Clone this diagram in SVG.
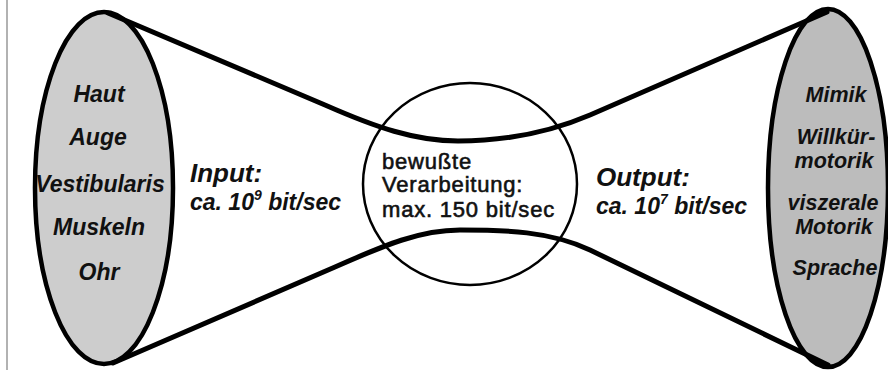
<svg xmlns="http://www.w3.org/2000/svg" width="888" height="370" viewBox="0 0 888 370">
  <style>
    .sense { fill: #cdcdcd; stroke: #000; stroke-width: 4.5; }
    .motor { fill: #bcbcbc; stroke: #000; stroke-width: 4.5; }
    .proc { fill: none; stroke: #000; stroke-width: 2.5; }
    .funnel { fill: none; stroke: #000; stroke-width: 5; stroke-linejoin: round; stroke-linecap: round; }
    .lbl { font-family: "Liberation Sans", Arial, sans-serif; font-weight: bold; font-style: italic; fill: #111; text-anchor: middle; }
    .l23 { font-size: 23px; }
    .r21 { font-size: 21.5px; }
    .head { font-family: "Liberation Sans", Arial, sans-serif; font-weight: bold; font-style: italic; font-size: 26px; fill: #111; }
    .rate { font-family: "Liberation Sans", Arial, sans-serif; font-weight: bold; font-style: italic; font-size: 23px; fill: #111; }
    .ctr { font-family: "Liberation Sans", Arial, sans-serif; font-size: 22px; letter-spacing: 0.8px; fill: #111; stroke: #111; stroke-width: 0.6px; }
  </style>

  <line x1="7" y1="0" x2="7" y2="370" stroke="#999" stroke-width="1.5"/>

  <g id="node-input-organs">
    <ellipse class="sense" cx="104" cy="188" rx="69" ry="176"/>
    <text class="lbl l23" x="99" y="102">Haut</text>
    <text class="lbl l23" x="98" y="145">Auge</text>
    <text class="lbl l23" x="100" y="192">Vestibularis</text>
    <text class="lbl l23" x="99" y="235">Muskeln</text>
    <text class="lbl l23" x="99" y="280">Ohr</text>
  </g>

  <g id="node-output-organs">
    <ellipse class="motor" cx="828" cy="188" rx="60" ry="179"/>
    <text class="lbl r21" x="836" y="102">Mimik</text>
    <text class="lbl r21" x="836" y="144">Willkür-</text>
    <text class="lbl r21" x="834" y="168">motorik</text>
    <text class="lbl r21" x="833" y="210">viszerale</text>
    <text class="lbl r21" x="834" y="234">Motorik</text>
    <text class="lbl r21" x="835" y="275">Sprache</text>
  </g>

  <g id="node-processing">
    <ellipse class="proc" cx="470" cy="184" rx="107" ry="101"/>
    <text class="ctr" x="382" y="169">bewußte</text>
    <text class="ctr" x="382" y="192">Verarbeitung:</text>
    <text class="ctr" x="382" y="217">max. 150 bit/sec</text>
  </g>

  <g id="connectors">
    <path class="funnel" d="M108,13 L325,105 C375,127 415,141 458,141 C502,141 548,133 590,115 L827,12"/>
    <path class="funnel" d="M113,363 L335,267 C385,245 420,230 460,230 C505,230 550,231 590,250 L828,365"/>
  </g>

  <g id="label-input">
    <text class="head" x="190" y="182">Input:</text>
    <text class="rate" x="190" y="210">ca. 10<tspan font-size="14" dy="-10">9</tspan><tspan dy="10"> bit/sec</tspan></text>
  </g>

  <g id="label-output">
    <text class="head" x="596" y="186">Output:</text>
    <text class="rate" x="596" y="214">ca. 10<tspan font-size="14" dy="-10">7</tspan><tspan dy="10"> bit/sec</tspan></text>
  </g>
</svg>
